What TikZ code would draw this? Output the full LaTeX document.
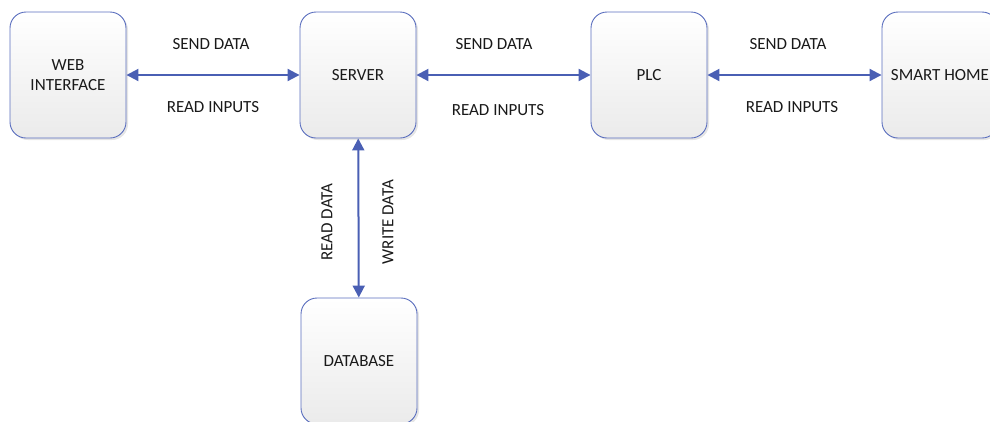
\documentclass[tikz,border=0pt]{standalone}
\usepackage{fontspec}
\setmainfont{Carlito}
\usetikzlibrary{arrows.meta,shadows}
\definecolor{boxblue}{HTML}{5A6EBE}
\definecolor{arrblue}{HTML}{4A5FB4}
\begin{document}
\begin{tikzpicture}[x=1pt,y=-1pt,
  blk/.style={draw=boxblue,line width=0.9pt,rounded corners=16pt,
    minimum width=116pt,minimum height=126pt,inner sep=2pt,
    top color=white,bottom color=black!8,
    drop shadow={shadow xshift=2pt,shadow yshift=-2pt,opacity=0.25,fill=black!40},
    align=center,font=\fontsize{17}{20}\selectfont,text=black!90},
  lnk/.style={draw=arrblue,line width=2pt,{Triangle[length=12pt,width=12pt]}-{Triangle[length=12pt,width=12pt]}},
  lbl/.style={font=\fontsize{17}{20}\selectfont,text=black!90,inner sep=0pt}]
\useasboundingbox (0,0) rectangle (990,421);
\node[blk] (web) at (68,75) {WEB\\INTERFACE};
\node[blk] (srv) at (358,75) {SERVER};
\node[blk] (plc) at (649,75) {PLC};
\node[blk] (home) at (940,75) {SMART HOME};
\node[blk] (db) at (359,361) {DATABASE};
\draw[lnk] (web) -- (srv);
\draw[lnk] (srv) -- (plc);
\draw[lnk] (plc) -- (home);
\draw[lnk] (srv) -- (db);
\node[lbl] (l1) at (211,44) {SEND DATA};
\node[lbl] (l2) at (213,107) {READ INPUTS};
\node[lbl] (l3) at (494,44) {SEND DATA};
\node[lbl] (l4) at (498,110) {READ INPUTS};
\node[lbl] (l5) at (788,44) {SEND DATA};
\node[lbl] (l6) at (792,107) {READ INPUTS};
\node[lbl,rotate=90] (l7) at (327,222) {READ DATA};
\node[lbl,rotate=90] (l8) at (388,222) {WRITE DATA};
\end{tikzpicture}
\end{document}
